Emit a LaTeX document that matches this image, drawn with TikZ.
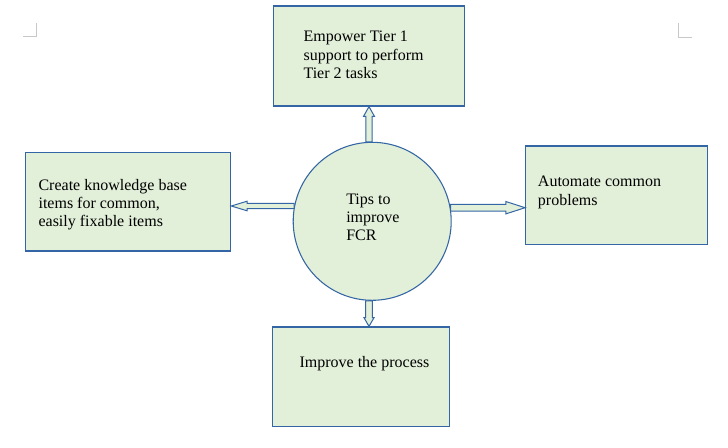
\documentclass[tikz,border=0pt]{standalone}
\usepackage{fontspec}
\setmainfont{Liberation Serif}
\usetikzlibrary{calc}
\definecolor{boxfill}{HTML}{E2EFD9}
\definecolor{boxline}{HTML}{3465A4}
\definecolor{markgray}{HTML}{C8C8C8}
\tikzset{
  box/.style={rectangle, draw=boxline, fill=boxfill, line width=0.9pt, inner sep=0pt},
  hub/.style={circle, draw=boxline, fill=boxfill, line width=0.8pt, inner sep=0pt, minimum size=118.5pt},
  txt/.style={anchor=north west, inner sep=0pt, align=left, font=\fontsize{12pt}{13.6pt}\selectfont, yshift=9.52pt, text=black},
  barrow/.style={draw=boxline, fill=boxfill, line width=0.75pt, line join=miter},
  cornermark/.style={draw=markgray, line width=0.75pt}
}
% vertical block arrow: start, tip, head length, shaft half width, head half width
\newcommand\varrowshape[5]{%
  \draw[barrow] let \p1=(#1), \p2=(#2), \n1={sign(\y2-\y1)} in
    ({\x2-#4},\y1) -- ({\x2-#4},{\y2-(\n1)*#3}) -- ({\x2-#5},{\y2-(\n1)*#3}) -- (\p2)
    -- ({\x2+#5},{\y2-(\n1)*#3}) -- ({\x2+#4},{\y2-(\n1)*#3}) -- ({\x2+#4},\y1) -- cycle;}
% horizontal block arrow: start, tip, head length, shaft half width, head half width
\newcommand\harrowshape[5]{%
  \draw[barrow] let \p1=(#1), \p2=(#2), \n1={sign(\x2-\x1)} in
    (\x1,{\y2-#4}) -- ({\x2-(\n1)*#3},{\y2-#4}) -- ({\x2-(\n1)*#3},{\y2-#5}) -- (\p2)
    -- ({\x2-(\n1)*#3},{\y2+#5}) -- ({\x2-(\n1)*#3},{\y2+#4}) -- (\x1,{\y2+#4}) -- cycle;}
\begin{document}
\begin{tikzpicture}[x=0.75pt,y=-0.75pt]
\useasboundingbox (0,0) rectangle (728,447);
% page corner marks
\draw[cornermark] (23,36.7) -- (36,36.7) -- (36,23.3);
\draw[cornermark] (678.7,23.3) -- (678.7,37) -- (692,37);
% boxes
\node[box, minimum width=143.5pt, minimum height=75pt] (tbox) at (369,56) {};
\node[box, minimum width=153.75pt, minimum height=74pt] (lbox) at (128.2,201.7) {};
\node[box, minimum width=136.2pt, minimum height=73.7pt] (rbox) at (616.5,195.2) {};
\node[box, minimum width=132.75pt, minimum height=74.6pt] (dbox) at (360.8,376.7) {};
% hub
\node[hub] (hub) at (372.2,221.3) {};
% block arrows
\varrowshape{hub.92}{tbox.south}{7.3pt}{2.4pt}{4.1pt}
\varrowshape{hub.268}{$(dbox.north)+(8.2,0)$}{6.5pt}{2.5pt}{3.75pt}
\harrowshape{hub.10}{rbox.west |- 0,207.7}{14.5pt}{2.5pt}{4.65pt}
\harrowshape{hub.169}{lbox.east |- 0,206}{11.8pt}{1.9pt}{3.6pt}
% texts
\node[txt] (ttxt) at (303.3,41.7) {\strut Empower Tier 1\\support to perform\\Tier 2 tasks};
\node[txt] (ltxt) at (38.3,190) {\strut Create knowledge base\\items for common,\\easily fixable items};
\node[txt] (rtxt) at (537.7,186.7) {\strut Automate common\\problems};
\node[txt] (htxt) at (346,204.3) {\strut Tips to\\improve\\FCR};
\node[txt] (dtxt) at (299.3,367.3) {\strut Improve the process};
\end{tikzpicture}
\end{document}
